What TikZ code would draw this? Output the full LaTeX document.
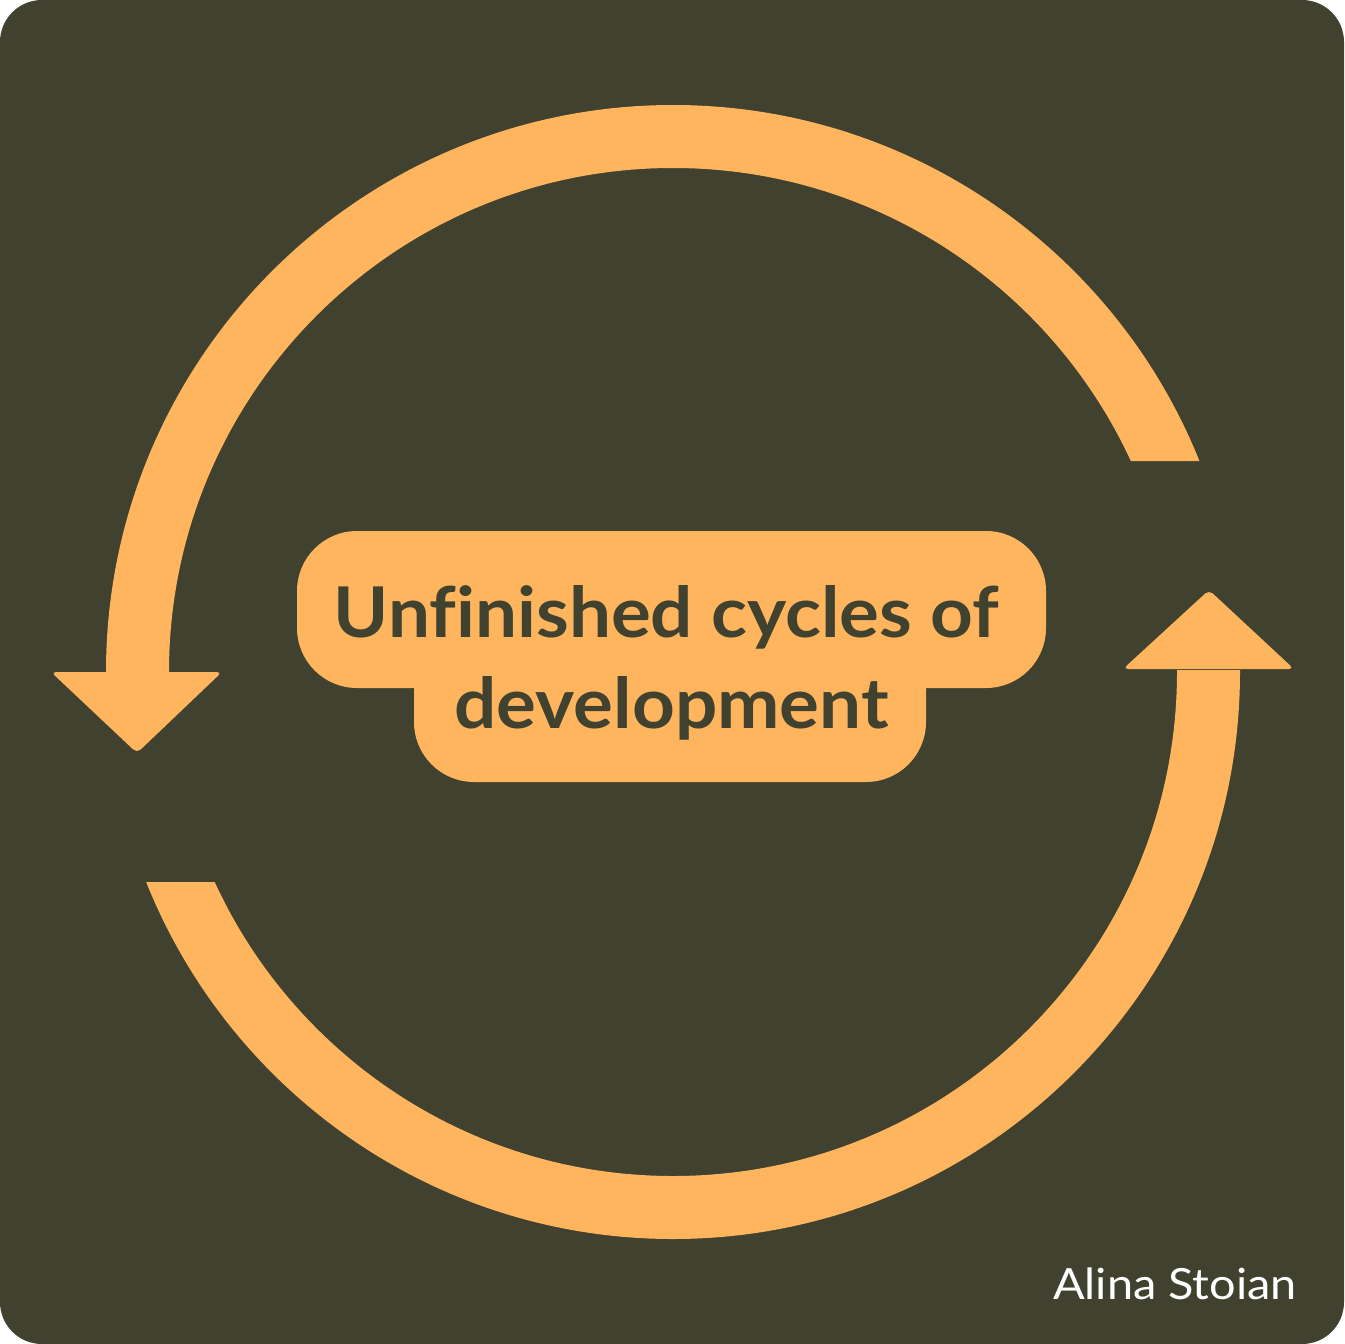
\documentclass[tikz,border=0pt]{standalone}
\usepackage{fontspec}
\setmainfont{Lato}[Ligatures=NoCommon]
\definecolor{bg}{RGB}{64,65,46}
\definecolor{org}{RGB}{254,181,94}
\begin{document}
\begin{tikzpicture}[x=1pt,y=-1pt,
  ring/.style={draw=org,line width=63pt},
  head/.style={fill=org,rounded corners=5pt},
  label/.style={fill=org},
  title/.style={text=bg,font=\fontsize{70}{84}\selectfont\bfseries,inner sep=0pt,anchor=base,xscale=1.065},
  sign/.style={text=white,font=\fontsize{43}{50}\selectfont,inner sep=0pt,anchor=base east,xscale=1.09}]
\useasboundingbox (0,0) rectangle (1344,1344);
\fill[white] (0,0) rectangle (1344,1344);
\fill[bg,rounded corners=42pt] (0,0) rectangle (1344,1344);
\coordinate (c) at (673,672);
% top arc
\begin{scope}
\clip (0,0) -- (1344,0) -- (1344,461) -- (673,461) -- (673,672) -- (0,672) -- cycle;
\draw[ring] (c) circle[radius=535.5pt];
\end{scope}
% bottom arc
\begin{scope}
\clip (0,882) -- (673,882) -- (673,670) -- (1344,670) -- (1344,1344) -- (0,1344) -- cycle;
\draw[ring] (c) circle[radius=535.5pt];
\end{scope}
% arrowheads
\fill[head] (51,672) -- (222,672) -- (137,753) -- cycle;
\fill[head] (1123,669) -- (1294,669) -- (1209,590) -- cycle;
% label
\fill[label,rounded corners=60pt] (297,531) rectangle (1046,688);
\fill[label,rounded corners=60pt] (414,600) rectangle (926,782);
\node[title] (t1) at (666.5,637) {Unfinished cycles of};
\node[title] (t2) at (671.5,728) {development};
\node[sign] (s) at (1297,1299) {Alina Stoian};
\end{tikzpicture}
\end{document}
